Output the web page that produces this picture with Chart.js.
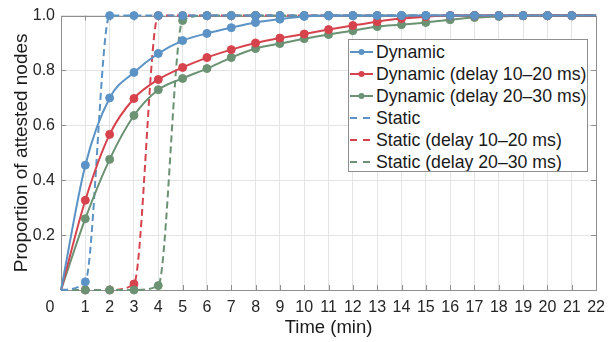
<!DOCTYPE html>
<html><head><meta charset="utf-8">
<script src="https://cdn.jsdelivr.net/npm/chart.js@4/dist/chart.umd.min.js"></script>
<style>
html,body{margin:0;padding:0;background:#fff;}
#wrap{position:relative;width:613px;height:342px;}
canvas{display:block;}
#legend{position:absolute;left:348px;top:39px;width:238px;height:130px;border:1px solid #8f8f8f;background:#fff;font-family:"Liberation Sans",Arial,sans-serif;font-size:17.7px;color:#1a1a1a;padding-top:1px;overflow:hidden;}
.row{height:22px;line-height:22px;display:flex;align-items:center;white-space:nowrap;}
.row svg{margin-left:1px;margin-right:2px;flex:none;}
</style></head><body>
<div id="wrap"><canvas id="c" width="613" height="342"></canvas><div id="legend"></div></div>
<script>
// ---- data ----
const times = [0,1,2,3,4,5,6,7,8,9,10,11,12,13,14,15,16,17,18,19,20,21,22];
const xTickLabels = ['0','1','2','3','4','5','6','7','8','9','10','11','12','13','14','15','16','17','18','19','20','21','22'];
const yTickLabels = {0.2:'0.2',0.4:'0.4',0.6:'0.6',0.8:'0.8',1:'1.0'};
const seriesNames = ['Dynamic','Dynamic (delay 10\u201320 ms)','Dynamic (delay 20\u201330 ms)','Static','Static (delay 10\u201320 ms)','Static (delay 20\u201330 ms)'];
const dynamic      = [0,0.455,0.700,0.793,0.862,0.909,0.935,0.956,0.975,0.987,0.997,1,1,1,1,1,1,1,1,1,1,1,1];
const dynamic1020  = [0,0.327,0.567,0.698,0.767,0.811,0.847,0.876,0.900,0.918,0.933,0.949,0.964,0.978,0.989,0.996,1,1,1,1,1,1,1];
const dynamic2030  = [0,0.260,0.476,0.636,0.730,0.771,0.807,0.847,0.880,0.898,0.916,0.931,0.945,0.960,0.967,0.975,0.985,0.993,0.997,1,1,1,1];
const static0      = [0,0.030,1,1,1,1,1,1,1,1,1,1,1,1,1,1,1,1,1,1,1,1,1];
const static1020   = [0,0,0,0.022,1,1,1,1,1,1,1,1,1,1,1,1,1,1,1,1,1,1,1];
const static2030   = [0,0,0,0,0.016,0.982,1,1,1,1,1,1,1,1,1,1,1,1,1,1,1,1,1];

const colors = ['#5b93c6','#d7434d','#6b9272'];
const FONT = "'Liberation Sans', Arial, sans-serif";
Chart.defaults.font.family = FONT;

const toPts = arr => times.map((t,i)=>({x:t,y:arr[i]}));
const lastIdx = times.length-1;
const radius = ctx => (ctx.dataIndex===0 || ctx.dataIndex===lastIdx) ? 0 : 4;

function ds(label, arr, color, dashed, order){
  return {label, data: toPts(arr), borderColor: color, backgroundColor: color,
    pointBackgroundColor: color, pointBorderColor: color, pointRadius: radius, pointBorderWidth: 1,
    borderWidth: 2, borderDash: dashed ? [7,4] : [], cubicInterpolationMode: 'monotone',
    clip: false, order, fill: false, _dashed: dashed};
}
const datasets = [
  ds(seriesNames[0], dynamic, colors[0], false, 0),
  ds(seriesNames[1], dynamic1020, colors[1], false, 1),
  ds(seriesNames[2], dynamic2030, colors[2], false, 2),
  ds(seriesNames[3], static0, colors[0], true, 3),
  ds(seriesNames[4], static1020, colors[1], true, 5),
  ds(seriesNames[5], static2030, colors[2], true, 4)
];

const frame = {
  id: 'frame',
  beforeDatasetsDraw(chart){
    const {ctx, chartArea: a, scales: {x, y}} = chart;
    ctx.save();
    ctx.strokeStyle = '#8f8f8f'; ctx.lineWidth = 1;
    ctx.beginPath();
    x.ticks.forEach(t => { if (t.value<=0 || t.value>=22) return;
      const px = Math.round(x.getPixelForValue(t.value)) + 0.5;
      ctx.moveTo(px, a.bottom); ctx.lineTo(px, a.bottom-5);
      ctx.moveTo(px, a.top); ctx.lineTo(px, a.top+5); });
    y.ticks.forEach(t => { if (t.value<=0 || t.value>=1) return;
      const py = Math.round(y.getPixelForValue(t.value)) + 0.5;
      ctx.moveTo(a.left, py); ctx.lineTo(a.left+5, py);
      ctx.moveTo(a.right, py); ctx.lineTo(a.right-5, py); });
    ctx.stroke();
    ctx.strokeRect(Math.round(a.left)+0.5, Math.round(a.top)+0.5, Math.round(a.right-a.left), Math.round(a.bottom-a.top));
    ctx.restore();
  }
};

const chart = new Chart(document.getElementById('c'), {
  type: 'line',
  data: { datasets },
  options: {
    responsive: false, animation: false, devicePixelRatio: 1,
    layout: { padding: { top: 15, right: 11, left: 0, bottom: 0 } },
    plugins: { legend: { display: false }, tooltip: { enabled: false } },
    scales: {
      x: { type: 'linear', min: 0, max: 22,
        afterFit: s => { s.height = 52; },
        grid: { color: '#e4e4e4', drawTicks: false },
        border: { display: false },
        ticks: { stepSize: 1, padding: 8, color: '#262626', font: { size: 16 }, maxRotation: 0, autoSkip: false,
          callback: (v) => { const l = xTickLabels[times.indexOf(v)]; return v === 0 ? l + '\u00a0\u00a0\u00a0\u00a0\u00a0' : l; } },
        title: { display: true, text: 'Time (min)', color: '#1a1a1a', font: { size: 18.5 }, padding: { top: 0, bottom: 3 } }
      },
      y: { min: 0, max: 1,
        afterFit: s => { s.width = 61; },
        grid: { color: '#e4e4e4', drawTicks: false },
        border: { display: false },
        ticks: { stepSize: 0.2, padding: 6, color: '#262626', font: { size: 16 },
          callback: (v) => { const k = Math.round(v*10)/10; return yTickLabels[k] || ''; } },
        title: { display: true, text: 'Proportion of attested nodes', color: '#1a1a1a', font: { size: 19 }, padding: { top: 10.6, bottom: 0 } }
      }
    }
  },
  plugins: [frame]
});

// HTML legend built from the chart's datasets
const leg = document.getElementById('legend');
chart.data.datasets.forEach(d => {
  const row = document.createElement('div'); row.className = 'row';
  const c = d.borderColor;
  let svg = '<svg width="24" height="22" viewBox="0 0 24 22">';
  if (d._dashed) svg += '<line x1="0" y1="11" x2="22" y2="11" stroke="'+c+'" stroke-width="2" stroke-dasharray="7 6"/>';
  else svg += '<line x1="0" y1="11" x2="23" y2="11" stroke="'+c+'" stroke-width="2"/><circle cx="11.5" cy="11" r="3" fill="'+c+'"/>';
  svg += '</svg>';
  row.innerHTML = svg + '<span>' + d.label + '</span>';
  leg.appendChild(row);
});
</script>
</body></html>
